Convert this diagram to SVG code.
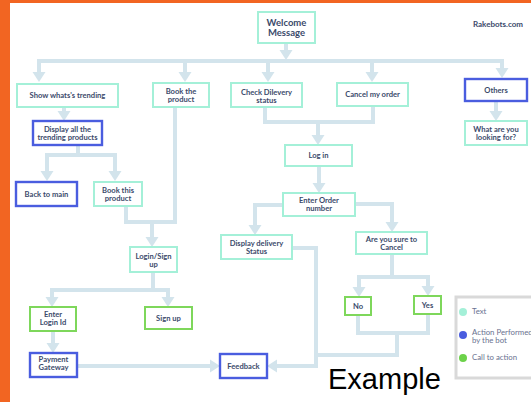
<svg xmlns="http://www.w3.org/2000/svg" width="531" height="402" viewBox="0 0 531 402">
<style>
.bx{fill:#fff;stroke-width:2}
.t{stroke:#A4F0D8}
.b{stroke:#4A5DDF;stroke-width:2.4}
.g{stroke:#7ED75B}
.lb{font-family:Lato,"Liberation Sans",sans-serif;font-weight:bold;font-size:7.6px;fill:#3B4A6B;text-anchor:middle}
.lg{font-family:Lato,"Liberation Sans",sans-serif;font-size:7.8px;fill:#6A7290}
.c{fill:none;stroke:#D3E4EC;stroke-width:4;marker-end:url(#ah)}
.n{fill:none;stroke:#D3E4EC;stroke-width:4}
</style>
<defs>
<marker id="ah" markerUnits="userSpaceOnUse" viewBox="0 -7 11 14" refX="0" refY="0" markerWidth="11" markerHeight="14" orient="auto">
<path d="M0,-6.5 L10,0 L0,6.5 z" fill="#D3E4EC"/>
</marker>
</defs>
<rect x="0" y="0" width="531" height="402" fill="#fff"/>
<rect x="0" y="0" width="531" height="3" fill="#F26522"/>
<rect x="0" y="0" width="10" height="402" fill="#F26522"/>

<g id="connectors">
<path class="c" d="M286,43 V50"/>
<path class="n" d="M37,61 H504"/>
<path class="c" d="M39,61 V72"/>
<path class="c" d="M185,61 V72"/>
<path class="c" d="M268,61 V72"/>
<path class="c" d="M372,61 V72"/>
<path class="c" d="M502,61 V68"/>
<path class="c" d="M496,101 V111"/>
<path class="c" d="M64,107 V111"/>
<path class="n" d="M78,145 V155"/>
<path class="n" d="M45,155 H117"/>
<path class="c" d="M47,155 V171"/>
<path class="c" d="M115,155 V171"/>
<path class="n" d="M175,107 V222 H126 V206"/>
<path class="c" d="M152,222 V237"/>
<path class="n" d="M153,272 V290"/>
<path class="n" d="M50,290 H170"/>
<path class="c" d="M52,290 V297"/>
<path class="c" d="M168,290 V297"/>
<path class="c" d="M53,331 V343"/>
<path class="c" d="M77,366 H210"/>
<path class="n" d="M265,107 V122 H373 V106"/>
<path class="c" d="M318,122 V135"/>
<path class="c" d="M319,166 V183"/>
<path class="c" d="M283,205 H255 V225"/>
<path class="c" d="M355,204 H392 V222"/>
<path class="n" d="M392,254 V277"/>
<path class="n" d="M357,277 H430"/>
<path class="c" d="M359,277 V287"/>
<path class="c" d="M428,277 V286"/>
<path class="n" d="M358,315 V333 H428 V314"/>
<path class="n" d="M397,333 V355 H316"/>
<path class="c" d="M292,248 H316 V366 H277"/>
</g>

<g id="welcome"><rect class="bx t" x="258" y="12" width="57" height="31"/><text class="lb" style="font-size:9.5px" x="286.5" y="26.3">Welcome</text><text class="lb" style="font-size:9.5px" x="286.5" y="36.3">Message</text></g>
<text x="498" y="27" class="lb" style="font-size:8px">Rakebots.com</text>

<g id="show"><rect class="bx t" x="17" y="84" width="101" height="23"/><text class="lb" x="67.5" y="98">Show whats's trending</text></g>
<g id="book"><rect class="bx t" x="153" y="83" width="56" height="24"/><text class="lb" x="181" y="93.7">Book the</text><text class="lb" x="181" y="101.7">product</text></g>
<g id="check"><rect class="bx t" x="231" y="83" width="71" height="24"/><text class="lb" x="266.5" y="94.7">Check Dilevery</text><text class="lb" x="266.5" y="102.7">status</text></g>
<g id="cancel"><rect class="bx t" x="337" y="83" width="71" height="23"/><text class="lb" x="372.5" y="97.2">Cancel my order</text></g>
<g id="others"><rect class="bx b" x="465" y="79" width="62" height="22"/><text class="lb" x="496" y="92.7">Others</text></g>
<g id="what"><rect class="bx t" x="465" y="121" width="62" height="24"/><text class="lb" x="496" y="132.2">What are you</text><text class="lb" x="496" y="140.2">looking for?</text></g>
<g id="displayall"><rect class="bx b" x="33" y="121" width="69" height="24"/><text class="lb" x="67.5" y="131.7">Display all the</text><text class="lb" x="67.5" y="140.2">trending products</text></g>
<g id="back"><rect class="bx b" x="16" y="182" width="61" height="24"/><text class="lb" x="46.5" y="196.7">Back to main</text></g>
<g id="bookthis"><rect class="bx t" x="94" y="182" width="48" height="24"/><text class="lb" x="118" y="192.7">Book this</text><text class="lb" x="118" y="200.7">product</text></g>
<g id="loginsign"><rect class="bx t" x="130" y="247" width="47" height="25"/><text class="lb" x="153.5" y="258.7">Login/Sign</text><text class="lb" x="153.5" y="266.7">up</text></g>
<g id="login"><rect class="bx t" x="285" y="145" width="67" height="21"/><text class="lb" x="318.5" y="158.2">Log in</text></g>
<g id="enterorder"><rect class="bx t" x="283" y="193" width="72" height="23"/><text class="lb" x="319" y="202.7">Enter Order</text><text class="lb" x="319" y="210.7">number</text></g>
<g id="displaydel"><rect class="bx t" x="221" y="235" width="71" height="24"/><text class="lb" x="256.5" y="245.5">Display delivery</text><text class="lb" x="256.5" y="253.5">Status</text></g>
<g id="sure"><rect class="bx t" x="356" y="232" width="71" height="22"/><text class="lb" x="391.5" y="241.7">Are you sure to</text><text class="lb" x="391.5" y="249.5">Cancel</text></g>
<g id="no"><rect class="bx g" x="345" y="297" width="26" height="18"/><text class="lb" x="358" y="308.7">No</text></g>
<g id="yes"><rect class="bx g" x="414" y="296" width="27" height="18"/><text class="lb" x="427.5" y="307.7">Yes</text></g>
<g id="enterlogin"><rect class="bx g" x="30" y="307" width="46" height="24"/><text class="lb" x="53" y="317">Enter</text><text class="lb" x="53" y="325">Login Id</text></g>
<g id="signup"><rect class="bx g" x="145" y="307" width="47" height="22"/><text class="lb" x="168.5" y="320.7">Sign up</text></g>
<g id="payment"><rect class="bx b" x="30" y="353" width="47" height="24"/><text class="lb" x="53.5" y="362">Payment</text><text class="lb" x="53.5" y="370">Gateway</text></g>
<g id="feedback"><rect class="bx b" x="220" y="354" width="47" height="24"/><text class="lb" x="243.5" y="368.7">Feedback</text></g>

<g id="legend">
<rect x="456" y="297" width="84" height="81" fill="#fff" stroke="#D9D9D9" stroke-width="3"/>
<circle cx="463" cy="312" r="4" fill="#A4F0D8"/>
<text class="lg" x="472" y="313.5">Text</text>
<circle cx="463" cy="335" r="4" fill="#4A5DDF"/>
<text class="lg" x="472" y="334.5">Action Performed</text>
<text class="lg" x="472" y="342.5">by the bot</text>
<circle cx="463" cy="358" r="4" fill="#6CD24A"/>
<text class="lg" x="472" y="360">Call to action</text>
</g>
<text x="328" y="389" font-family="'Liberation Sans',Arial,sans-serif" font-size="29" fill="#000">Example</text>
</svg>
